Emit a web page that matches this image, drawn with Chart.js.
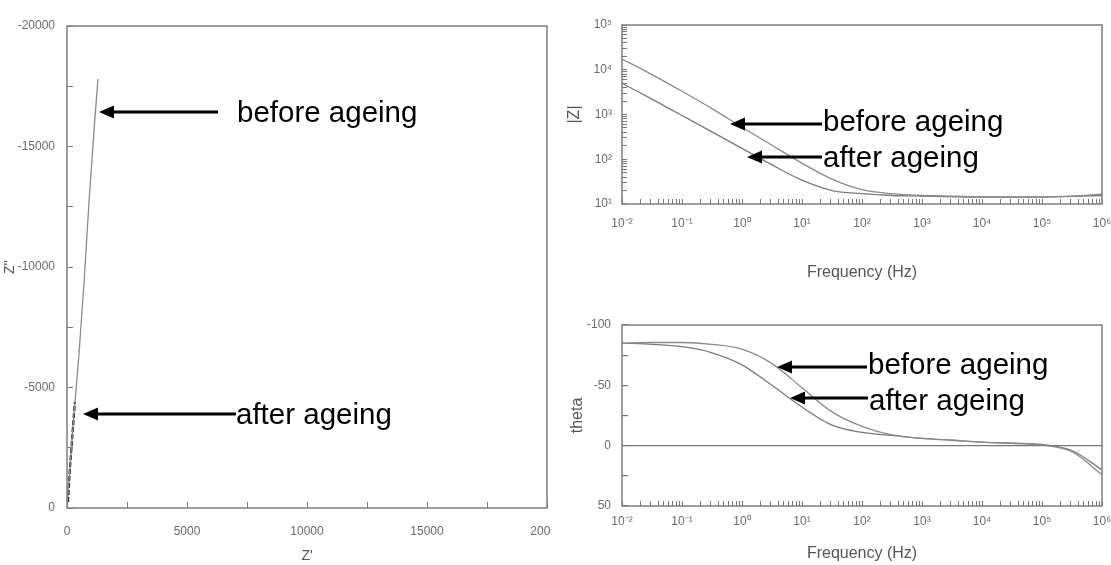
<!DOCTYPE html>
<html>
<head>
<meta charset="utf-8">
<script src="https://cdn.jsdelivr.net/npm/chart.js@4.4.1/dist/chart.umd.min.js"></script>
<style>
  body { margin: 0; background: #fff; }
  #wrap { position: relative; width: 1111px; height: 565px; overflow: hidden; background: #fff; }
  canvas { position: absolute; }
</style>
</head>
<body>
<div id="wrap">
  <canvas id="nyquist" width="551" height="565" style="left:0;top:0"></canvas>
  <canvas id="bodeMod" width="551" height="290" style="left:560px;top:0"></canvas>
  <canvas id="bodePhase" width="551" height="275" style="left:560px;top:290px"></canvas>
</div>
<script>
// Nyquist data (Z', Z'')
const nyqBeforeRe = [0, 220, 500, 720, 920, 1150, 1290]
const nyqBeforeIm = [0, -3000, -6400, -9500, -12750, -16000, -17800]
const nyqAfterRe = [40, 120, 230, 330]
const nyqAfterIm = [-250, -1600, -3100, -4400]

// Bode data
const freq = [0.01, 0.0316, 0.1, 0.316, 1, 3.16, 10, 31.6, 100, 316, 1000, 3160, 10000, 31600, 100000, 316000, 1000000]
const modBefore = [17400, 7800, 3300, 1350, 520, 205, 82, 36, 21, 17, 15.5, 15, 14.5, 14.5, 14.5, 15, 16.5]
const modAfter = [5000, 2200, 950, 410, 175, 75, 34, 20, 17, 15.5, 15, 14.5, 14.2, 14.2, 14.2, 14.8, 15.5]
const phaseBefore = [-85, -85.5, -85.5, -84, -80, -68, -48, -28, -16, -9, -6, -4.5, -3, -2, -0.5, 5, 24]
const phaseAfter = [-85, -84, -82, -77, -67, -50, -32, -17, -11, -8.5, -6, -4.5, -3, -2, -1, 4, 20]

// tick labels
const nyqXTicks = [0, 5000, 10000, 15000, 20000]
const nyqXLabels = ["0", "5000", "10000", "15000", "20000"]
const nyqYTicks = [-20000, -15000, -10000, -5000, 0]
const nyqYLabels = ["-20000", "-15000", "-10000", "-5000", "0"]
const freqDecades = [0.01, 0.1, 1, 10, 100, 1000, 10000, 100000, 1000000]
const freqLabels = ["10⁻²", "10⁻¹", "10⁰", "10¹", "10²", "10³", "10⁴", "10⁵", "10⁶"]
const modDecades = [10, 100, 1000, 10000, 100000]
const modLabels = ["10¹", "10²", "10³", "10⁴", "10⁵"]
const phaseTicks = [-100, -50, 0, 50]
const phaseLabels = ["-100", "-50", "0", "50"]

const fontFamily = "'Liberation Sans', Arial, sans-serif"
const tickFont = { family: fontFamily, size: 12 }
const titleFont = { family: fontFamily, size: 16 }
const inkGrey = "#6a6a6a"
const lineGrey = "#8a8a8a"

function pairs(xs, ys) {
  return xs.map((x, i) => ({ x: x, y: ys[i] }))
}

function labelFor(value, values, labels) {
  const i = values.findIndex((v) => Math.abs(v - value) <= Math.abs(v) * 1e-6 + 1e-9)
  return i >= 0 ? labels[i] : ""
}

// 1..9 ticks per decade
function logTicks(decades) {
  const ticks = []
  decades.forEach((d, i) => {
    if (i === decades.length - 1) {
      ticks.push({ value: d })
      return
    }
    for (let k = 1; k <= 9; k++) ticks.push({ value: d * k })
  })
  return ticks
}

// fixed axis size so the plot box lands where the reference has it
function sizeTo(px) {
  return (scale) => {
    if (scale.isHorizontal()) {
      scale.height = px
      scale.paddingLeft = 0
      scale.paddingRight = 0
    } else {
      scale.width = px
      scale.paddingTop = 0
      scale.paddingBottom = 0
    }
  }
}

function innerGrid(extra) {
  return Object.assign({ drawOnChartArea: false, tickLength: -6, color: "#777", tickColor: "#777", lineWidth: 1 }, extra || {})
}

const notes = {
  nyquist: [
    { text: "before ageing", tipX: 99, tailX: 218, arrowY: 112, textX: 237, baseY: 122 },
    { text: "after ageing", tipX: 83, tailX: 236, arrowY: 414, textX: 236, baseY: 424 },
  ],
  bodeMod: [
    { text: "before ageing", tipX: 170, tailX: 262, arrowY: 124, textX: 263, baseY: 131 },
    { text: "after ageing", tipX: 187, tailX: 262, arrowY: 157, textX: 263, baseY: 167 },
  ],
  bodePhase: [
    { text: "before ageing", tipX: 217, tailX: 307, arrowY: 77, textX: 308, baseY: 84 },
    { text: "after ageing", tipX: 230, tailX: 308, arrowY: 108, textX: 309, baseY: 120 },
  ],
}

const boxPlugin = {
  id: "box",
  afterDatasetsDraw(chart) {
    const a = chart.chartArea
    const ctx = chart.ctx
    ctx.save()
    ctx.strokeStyle = "#7d7d7d"
    ctx.lineWidth = 1.5
    ctx.strokeRect(a.left, a.top, a.right - a.left, a.bottom - a.top)
    ctx.restore()
  },
}

const notesPlugin = {
  id: "notes",
  afterDraw(chart) {
    const ctx = chart.ctx
    const list = notes[chart.canvas.id] || []
    ctx.save()
    list.forEach((n) => {
      ctx.strokeStyle = "#000"
      ctx.fillStyle = "#000"
      ctx.lineWidth = 2.8
      ctx.beginPath()
      ctx.moveTo(n.tailX, n.arrowY)
      ctx.lineTo(n.tipX + 12, n.arrowY)
      ctx.stroke()
      ctx.beginPath()
      ctx.moveTo(n.tipX, n.arrowY)
      ctx.lineTo(n.tipX + 15, n.arrowY - 6.5)
      ctx.lineTo(n.tipX + 15, n.arrowY + 6.5)
      ctx.closePath()
      ctx.fill()
      ctx.font = "29.5px " + fontFamily
      ctx.textBaseline = "alphabetic"
      ctx.textAlign = "left"
      ctx.fillText(n.text, n.textX, n.baseY)
    })
    ctx.restore()
  },
}

function lineSet(data, color, width, dash, smooth) {
  return {
    data: data,
    showLine: true,
    borderColor: color,
    borderWidth: width,
    borderDash: dash || [],
    pointRadius: 0,
    tension: 0,
    cubicInterpolationMode: smooth ? "monotone" : "default",
    fill: false,
  }
}

const common = {
  responsive: false,
  animation: false,
  devicePixelRatio: 1,
  plugins: { legend: { display: false }, tooltip: { enabled: false } },
}

// Nyquist
new Chart(document.getElementById("nyquist").getContext("2d"), {
  type: "scatter",
  data: {
    datasets: [
      lineSet(pairs(nyqBeforeRe, nyqBeforeIm), lineGrey, 1.3),
      lineSet(pairs(nyqAfterRe, nyqAfterIm), "#111", 2.2, [5, 2]),
    ],
  },
  options: Object.assign({}, common, {
    layout: { padding: { top: 26, right: 4, left: 0, bottom: 0 } },
    scales: {
      x: {
        type: "linear",
        min: 0,
        max: 20000,
        afterFit: sizeTo(57),
        border: { display: false },
        grid: innerGrid(),
        ticks: {
          stepSize: 2500,
          autoSkip: false,
          maxRotation: 0,
          padding: 22,
          color: inkGrey,
          font: tickFont,
          callback: (v) => labelFor(v, nyqXTicks, nyqXLabels),
        },
        title: { display: true, text: "Z'", color: "#555", font: { family: fontFamily, size: 14 }, padding: { top: 0, bottom: 0 } },
      },
      y: {
        type: "linear",
        min: -20000,
        max: 0,
        reverse: true,
        afterFit: sizeTo(67),
        border: { display: false },
        grid: innerGrid(),
        ticks: {
          stepSize: 2500,
          autoSkip: false,
          padding: 18,
          color: inkGrey,
          font: tickFont,
          callback: (v) => labelFor(v, nyqYTicks, nyqYLabels),
        },
        title: { display: true, text: "Z''", color: "#555", font: { family: fontFamily, size: 14 }, padding: { top: 2, bottom: 0 } },
      },
    },
  }),
  plugins: [boxPlugin, notesPlugin],
})

function freqAxis(height, pad, titlePad) {
  return {
    type: "logarithmic",
    min: 0.01,
    max: 1000000,
    afterFit: sizeTo(height),
    afterBuildTicks: (scale) => {
      scale.ticks = logTicks(freqDecades)
    },
    border: { display: false },
    grid: innerGrid({ tickLength: -5 }),
    ticks: {
      autoSkip: false,
      maxRotation: 0,
      padding: pad,
      color: inkGrey,
      font: tickFont,
      callback: (v) => labelFor(v, freqDecades, freqLabels),
    },
    title: { display: true, text: "Frequency (Hz)", color: "#555", font: titleFont, padding: { top: 0, bottom: titlePad } },
  }
}

// |Z| vs frequency
new Chart(document.getElementById("bodeMod").getContext("2d"), {
  type: "scatter",
  data: {
    datasets: [
      lineSet(pairs(freq, modBefore), lineGrey, 1.3, null, true),
      lineSet(pairs(freq, modAfter), "#7a7a7a", 1.3, null, true),
    ],
  },
  options: Object.assign({}, common, {
    layout: { padding: { top: 25, right: 9, left: 0, bottom: 0 } },
    scales: {
      x: freqAxis(86, 17, 8),
      y: {
        type: "logarithmic",
        min: 10,
        max: 100000,
        afterFit: sizeTo(62),
        afterBuildTicks: (scale) => {
          scale.ticks = logTicks(modDecades)
        },
        border: { display: false },
        grid: innerGrid({ tickLength: -5 }),
        ticks: {
          autoSkip: false,
          padding: 15,
          color: inkGrey,
          font: tickFont,
          callback: (v) => labelFor(v, modDecades, modLabels),
        },
        title: { display: true, text: "|Z|", color: "#555", font: titleFont, padding: { top: 5, bottom: 0 } },
      },
    },
  }),
  plugins: [boxPlugin, notesPlugin],
})

// theta vs frequency
new Chart(document.getElementById("bodePhase").getContext("2d"), {
  type: "scatter",
  data: {
    datasets: [
      lineSet(pairs(freq, phaseBefore), lineGrey, 1.3, null, true),
      lineSet(pairs(freq, phaseAfter), "#7a7a7a", 1.3, null, true),
    ],
  },
  options: Object.assign({}, common, {
    layout: { padding: { top: 35, right: 9, left: 0, bottom: 0 } },
    scales: {
      x: freqAxis(59, 13, 2),
      y: {
        type: "linear",
        min: -100,
        max: 50,
        reverse: true,
        afterFit: sizeTo(62),
        border: { display: false },
        grid: {
          drawOnChartArea: true,
          tickLength: -6,
          tickColor: "#777",
          color: (c) => (c.tick && c.tick.value === 0 ? "#777" : "rgba(0,0,0,0)"),
          lineWidth: 1.2,
        },
        ticks: {
          stepSize: 25,
          autoSkip: false,
          padding: 17,
          color: inkGrey,
          font: tickFont,
          callback: (v) => labelFor(v, phaseTicks, phaseLabels),
        },
        title: { display: true, text: "theta", color: "#555", font: titleFont, padding: { top: 8, bottom: 0 } },
      },
    },
  }),
  plugins: [boxPlugin, notesPlugin],
})
</script>
</body>
</html>
